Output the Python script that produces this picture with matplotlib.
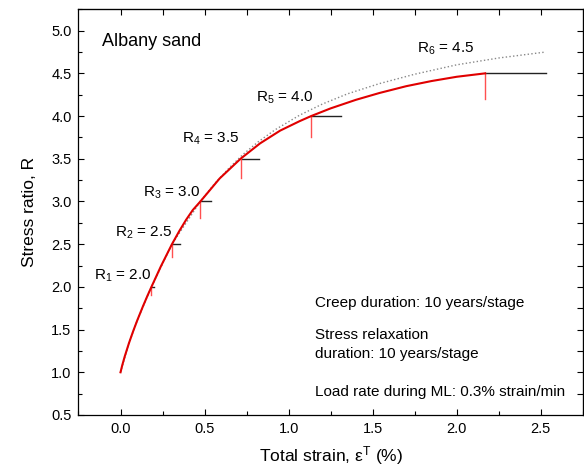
import numpy as np
import matplotlib
matplotlib.use("Agg")
import matplotlib.pyplot as plt

plt.rcParams['font.family'] = ['Liberation Sans', 'DejaVu Sans']
plt.rcParams['mathtext.fontset'] = 'custom'
plt.rcParams['mathtext.rm'] = 'Liberation Sans'
plt.rcParams['mathtext.it'] = 'Liberation Sans:italic'

# stress ratio stages (R) and the strain where each stage is reached
stage_R = [2.0, 2.5, 3.0, 3.5, 4.0, 4.5]
stage_strain = [0.184, 0.306, 0.475, 0.714, 1.134, 2.169]
creep_end_strain = [0.200, 0.352, 0.540, 0.821, 1.312, 2.530]
relax_end_R = [1.90, 2.35, 2.81, 3.27, 3.75, 4.20]

# loading curve with creep / relaxation (red)
red_strain = [0.0, 0.01, 0.025, 0.05, 0.075, 0.10, 0.134, 0.16, 0.184, 0.24,
              0.306, 0.35, 0.39, 0.43, 0.475, 0.59, 0.714, 0.83, 0.95, 1.065,
              1.134, 1.25, 1.40, 1.54, 1.70, 1.85, 2.00, 2.169]
red_R = [1.0, 1.08, 1.185, 1.34, 1.48, 1.61, 1.775, 1.895, 2.0, 2.24,
         2.50, 2.655, 2.785, 2.90, 3.00, 3.27, 3.50, 3.68, 3.83, 3.94,
         4.00, 4.09, 4.19, 4.27, 4.35, 4.41, 4.46, 4.50]

# reference curve without time effects (dotted)
ref_strain = [0.0, 0.05, 0.10, 0.184, 0.306, 0.475, 0.56, 0.65, 0.728, 0.82,
              0.92, 1.065, 1.20, 1.35, 1.54, 1.75, 2.00, 2.25, 2.53]
ref_R = [1.0, 1.34, 1.61, 2.0, 2.50, 3.00, 3.21, 3.40, 3.55, 3.70,
         3.84, 4.01, 4.14, 4.26, 4.38, 4.49, 4.60, 4.68, 4.75]

fig = plt.figure(figsize=(5.84, 4.72), dpi=100)
ax = fig.add_axes([0.1344, 0.1208, 0.8636, 0.8595])

ax.plot(ref_strain, ref_R, ':', color='#888888', lw=1.0)
ax.plot(red_strain, red_R, '-', color='#e00000', lw=1.5, zorder=4)
for s, r, ce, rr in zip(stage_strain, stage_R, creep_end_strain, relax_end_R):
    ax.plot([s, ce], [r, r], '-', color='#222222', lw=1.0, zorder=3)
    ax.plot([s, s], [r, rr], '-', color='#ff5050', lw=1.0, zorder=3)

ax.set_xlim(-0.25, 2.75)
ax.set_ylim(0.5, 5.25)
ax.set_xticks(np.arange(0, 2.51, 0.5))
ax.set_yticks(np.arange(0.5, 5.01, 0.5))
ax.set_xticks(np.arange(-0.25, 2.76, 0.25), minor=True)
ax.set_yticks(np.arange(0.5, 5.26, 0.25), minor=True)
ax.set_xticklabels([f"{v:.1f}" for v in np.arange(0, 2.51, 0.5)])
ax.set_yticklabels([f"{v:.1f}" for v in np.arange(0.5, 5.01, 0.5)])
ax.tick_params(which='major', direction='in', length=4.5, width=0.8,
               labelsize=10.5, pad=5, color='black')
ax.tick_params(which='minor', direction='in', length=3, width=0.8)

# top / right: ticks every 0.25, no labels
top = ax.secondary_xaxis('top')
top.set_xticks(np.arange(0, 2.51, 0.25))
top.tick_params(direction='in', length=4, width=0.8, labeltop=False)
right = ax.secondary_yaxis('right')
right.set_yticks(np.arange(0.75, 5.01, 0.25))
right.tick_params(direction='in', length=4.5, width=0.8, labelright=False)

for sp in ax.spines.values():
    sp.set_linewidth(0.9)

ax.set_xlabel("Total strain, ε$^{\\mathrm{T}}$ (%)", fontsize=12.5, labelpad=6)
ax.set_ylabel("Stress ratio, R", fontsize=12.5, labelpad=10)

ax.text(-0.113, 4.82, "Albany sand", fontsize=13, va='baseline', ha='left')

label_x = [-0.159, -0.034, 0.134, 0.368, 0.803, 1.765]
label_y = [2.087, 2.594, 3.062, 3.694, 4.175, 4.748]
for i, (lx, ly, r) in enumerate(zip(label_x, label_y, stage_R)):
    ax.text(lx, ly, f"R$_{{{i + 1}}}$ = {r:.1f}", fontsize=11, va='baseline', ha='left')

ax.text(1.154, 1.762, "Creep duration: 10 years/stage", fontsize=11, va='baseline')
ax.text(1.154, 1.384, "Stress relaxation", fontsize=11, va='baseline')
ax.text(1.154, 1.165, "duration: 10 years/stage", fontsize=11, va='baseline')
ax.text(1.154, 0.728, "Load rate during ML: 0.3% strain/min", fontsize=11, va='baseline')

fig.savefig("out.png", dpi=100)
